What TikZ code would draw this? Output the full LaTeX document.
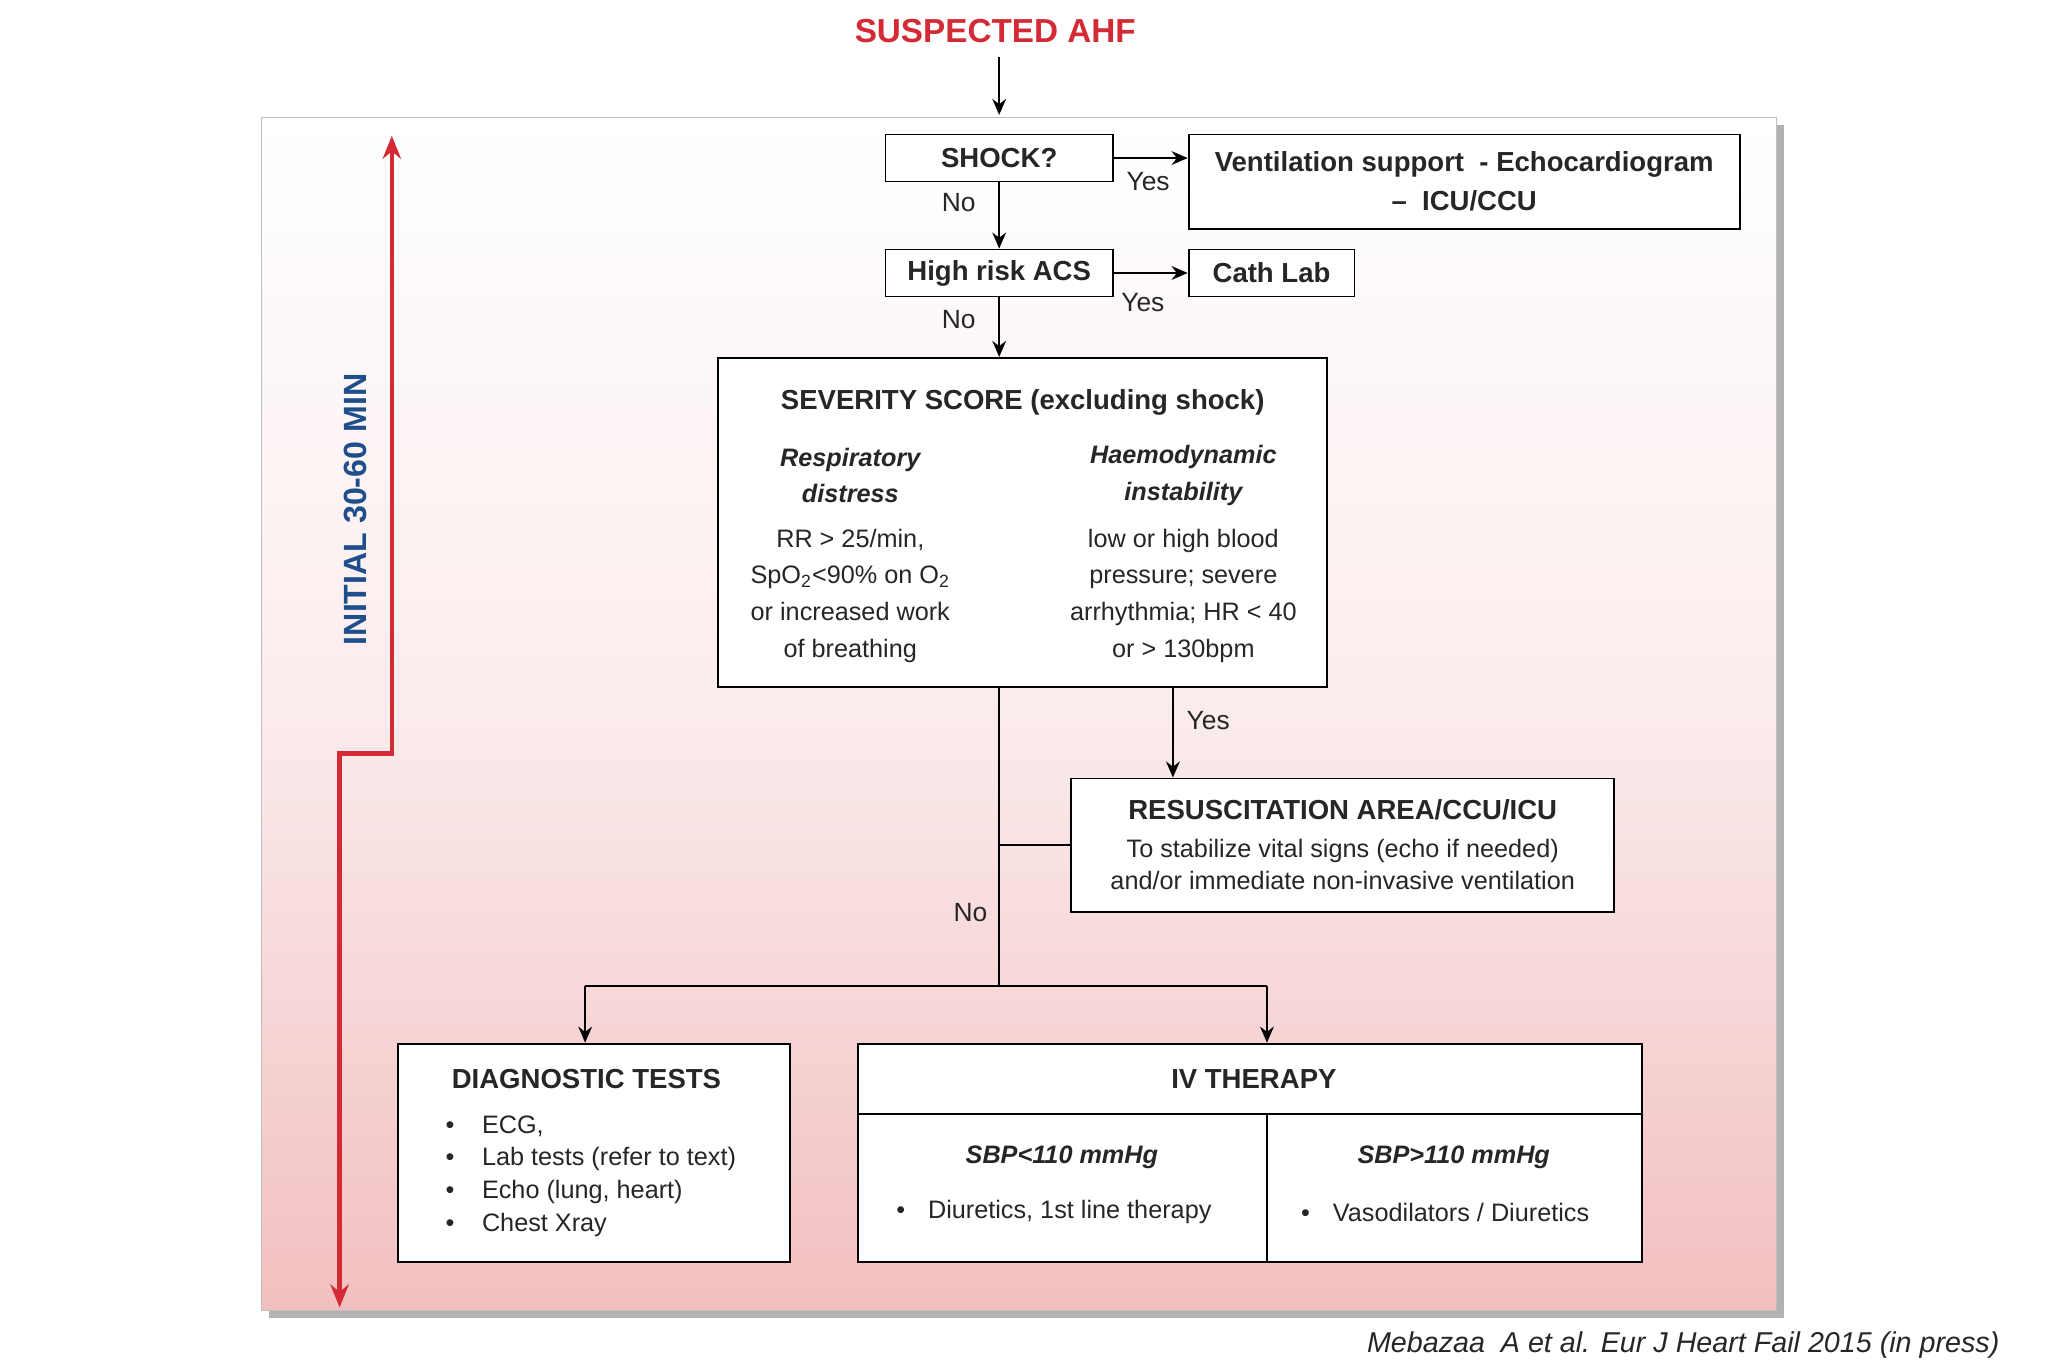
\documentclass[tikz,border=0pt]{standalone}
\usepackage{fontspec}
\setmainfont{Liberation Sans}
\usetikzlibrary{arrows.meta,positioning}
\definecolor{ahfred}{HTML}{D42A35}
\definecolor{ahfblue}{HTML}{1F4E8C}
\definecolor{pinkbg}{HTML}{F2BFC0}
\definecolor{txt}{HTML}{262626}
\begin{document}
\begin{tikzpicture}[x=0.02cm,y=-0.02cm,
  every node/.style={text=txt},
  box/.style={draw,thick,fill=white,inner sep=0pt},
  hd/.style={font=\bfseries\fontsize{12}{17}\selectfont},
  lbl/.style={font=\fontsize{11.5}{14}\selectfont},
  arr/.style={thick,-{Stealth[length=7pt,width=6pt]}},
  ln/.style={thick}]
\useasboundingbox (0,0) rectangle (1568,1046);
% frame with shadow
\fill[gray!60] (206,96) rectangle (1366,1009);
\shade[top color=white,bottom color=pinkbg,middle color=pinkbg!30] (200,90) rectangle (1360,1003);
\draw[gray!50] (200,90) rectangle (1360,1003);
% time arrow
\draw[ahfred,line width=2pt,{Stealth[length=10pt,width=8pt]}-{Stealth[length=10pt,width=8pt]}]
  (260,1001) -- (260,577) -- (300,577) -- (300,104);
\node[rotate=90,text=ahfblue,font=\bfseries\fontsize{14}{16}\selectfont] (tm) at (272,390) {INITIAL 30-60 MIN};
% title
\node[text=ahfred,font=\bfseries\fontsize{14.5}{17}\selectfont] (title) at (762,24) {SUSPECTED AHF};
\coordinate (top) at (765,88);
% boxes
\node[box,hd,minimum width=174*0.02cm,minimum height=36*0.02cm] (shock) at (765,121) {SHOCK?};
\node[box,hd,minimum width=422*0.02cm,minimum height=72*0.02cm,align=center] (vent) at (1121,139) {Ventilation support \ - Echocardiogram\\ -- \ ICU/CCU};
\node[box,hd,minimum width=174*0.02cm,minimum height=36*0.02cm] (acs) at (765,209) {High risk ACS};
\node[box,hd,minimum width=127*0.02cm,minimum height=36*0.02cm] (cath) at (973.5,209) {Cath Lab};
\node[box,minimum width=466*0.02cm,minimum height=252*0.02cm] (sev) at (783,400) {};
\node[hd] (sevt) at (783,308) {SEVERITY SCORE (excluding shock)};
\node[align=center,font=\bfseries\itshape\fontsize{11}{16}\selectfont] (rd) at (651,364) {Respiratory\\distress};
\node[align=center,font=\bfseries\itshape\fontsize{11}{16}\selectfont] (hi) at (906,364) {Haemodynamic\\instability};
\node[align=center,font=\fontsize{11}{16}\selectfont] (rdt) at (651,456) {RR > 25/min,\\SpO\textsubscript{2}<90\% on O\textsubscript{2}\\or increased work\\of breathing};
\node[align=center,font=\fontsize{11}{16}\selectfont] (hit) at (906,456) {low or high blood\\pressure; severe\\arrhythmia; HR < 40\\or > 130bpm};
\node[box,minimum width=416*0.02cm,minimum height=102*0.02cm] (res) at (1028,647) {};
\node[hd] (rest) at (1028,620) {RESUSCITATION AREA/CCU/ICU};
\node[align=center,font=\fontsize{11}{14}\selectfont] (resd) at (1028,662) {To stabilize vital signs (echo if needed)\\and/or immediate non-invasive ventilation};
\node[box,minimum width=300*0.02cm,minimum height=167*0.02cm] (diag) at (455,882.5) {};
\node[hd] (diagt) at (449,826) {DIAGNOSTIC TESTS};
\node[anchor=north west,align=left,font=\fontsize{11}{14.2}\selectfont] (diagl) at (335,848)
 {\textbullet\hspace{12pt}ECG,\\ \textbullet\hspace{12pt}Lab tests (refer to text)\\ \textbullet\hspace{12pt}Echo (lung, heart)\\ \textbullet\hspace{12pt}Chest Xray};
\node[box,minimum width=600*0.02cm,minimum height=167*0.02cm] (iv) at (957,882.5) {};
\draw[thick] (657,853) -- (1257,853);
\draw[thick] (970,853) -- (970,966);
\node[hd] (ivt) at (960,826) {IV THERAPY};
\node[font=\bfseries\itshape\fontsize{11}{14}\selectfont] (s1) at (813,886) {SBP<110 mmHg};
\node[font=\bfseries\itshape\fontsize{11}{14}\selectfont] (s2) at (1113,886) {SBP>110 mmHg};
\node[anchor=west,font=\fontsize{11}{14}\selectfont] (d1) at (680,928) {\textbullet\hspace{10pt}Diuretics, 1st line therapy};
\node[anchor=west,font=\fontsize{11}{14}\selectfont] (d2) at (990,928) {\textbullet\hspace{10pt}Vasodilators / Diuretics};
% connectors
\coordinate (tt) at (765,44);
\draw[arr] (tt) -- (top);
\draw[arr] (shock) -- (acs);
\draw[arr] (shock.east) -- (vent.west|-shock.east);
\draw[arr] (acs) -- (cath);
\draw[arr] (acs) -- (sev.north-|acs);
\coordinate (ys) at (898,526);
\draw[arr] (ys) -- (ys|-res.north);
\coordinate (ns) at (765,526);
\coordinate (nb) at (765,755);
\coordinate (nl) at (448,755);
\coordinate (nr) at (970,755);
\coordinate (nm) at (765,647);
\draw[ln] (ns) -- (nb);
\draw[ln] (nm) -- (res.west);
\draw[ln] (nl) -- (nr);
\draw[arr] (nl) -- (nl|-diag.north);
\draw[arr] (nr) -- (nr|-iv.north);
% labels
\node[lbl] (l1) at (734,155) {No};
\node[lbl] (l2) at (879,139) {Yes};
\node[lbl] (l3) at (875,232) {Yes};
\node[lbl] (l4) at (734,245) {No};
\node[lbl] (l5) at (925,552) {Yes};
\node[lbl] (l6) at (743,699) {No};
\node[anchor=east,font=\itshape\fontsize{12.5}{14}\selectfont] (cite) at (1537,1030) {Mebazaa \ A et al. Eur J Heart Fail 2015 (in press)};
\end{tikzpicture}
\end{document}
